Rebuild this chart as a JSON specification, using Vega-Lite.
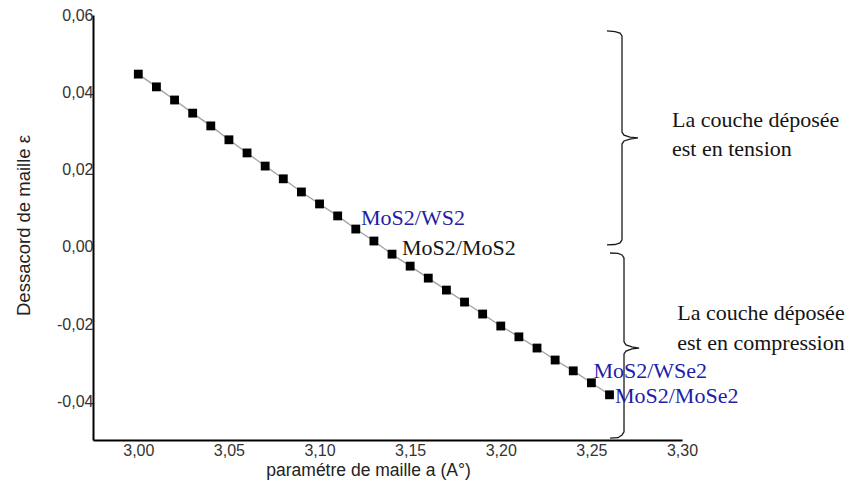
{
  "$schema": "https://vega.github.io/schema/vega-lite/v6.json",
  "autosize": {"type": "none"},
  "padding": {"left": 93, "top": 15, "right": 169, "bottom": 49},
  "width": 589,
  "height": 425,
  "background": "white",
  "config": {
    "view": {"stroke": null},
    "font": "Liberation Sans",
    "locale": {"number": {"decimal": ",", "thousands": " ", "grouping": [3], "currency": ["", " €"], "minus": "-"}}
  },
  "datasets": {
    "points": [
      {"a": 3.00, "eps": 0.0447}, {"a": 3.01, "eps": 0.0414}, {"a": 3.02, "eps": 0.0380},
      {"a": 3.03, "eps": 0.0346}, {"a": 3.04, "eps": 0.0313}, {"a": 3.05, "eps": 0.0277},
      {"a": 3.06, "eps": 0.0243}, {"a": 3.07, "eps": 0.0209}, {"a": 3.08, "eps": 0.0176},
      {"a": 3.09, "eps": 0.0142}, {"a": 3.10, "eps": 0.0111}, {"a": 3.11, "eps": 0.0080},
      {"a": 3.12, "eps": 0.0046}, {"a": 3.13, "eps": 0.0015}, {"a": 3.14, "eps": -0.0019},
      {"a": 3.15, "eps": -0.0050}, {"a": 3.16, "eps": -0.0081}, {"a": 3.17, "eps": -0.0112},
      {"a": 3.18, "eps": -0.0143}, {"a": 3.19, "eps": -0.0174}, {"a": 3.20, "eps": -0.0205},
      {"a": 3.21, "eps": -0.0233}, {"a": 3.22, "eps": -0.0262}, {"a": 3.23, "eps": -0.0293},
      {"a": 3.24, "eps": -0.0321}, {"a": 3.25, "eps": -0.0352}, {"a": 3.26, "eps": -0.0383}
    ],
    "braces": [
      {"brace": "tension", "i": 0, "a": 3.2586, "eps": 0.0559},
      {"brace": "tension", "i": 1, "a": 3.2630, "eps": 0.0557},
      {"brace": "tension", "i": 2, "a": 3.2658, "eps": 0.0553},
      {"brace": "tension", "i": 3, "a": 3.2669, "eps": 0.0546},
      {"brace": "tension", "i": 4, "a": 3.2669, "eps": 0.0297},
      {"brace": "tension", "i": 5, "a": 3.2680, "eps": 0.0289},
      {"brace": "tension", "i": 6, "a": 3.2713, "eps": 0.0284},
      {"brace": "tension", "i": 7, "a": 3.2757, "eps": 0.0282},
      {"brace": "tension", "i": 8, "a": 3.2713, "eps": 0.0279},
      {"brace": "tension", "i": 9, "a": 3.2680, "eps": 0.0274},
      {"brace": "tension", "i": 10, "a": 3.2669, "eps": 0.0266},
      {"brace": "tension", "i": 11, "a": 3.2669, "eps": 0.0018},
      {"brace": "tension", "i": 12, "a": 3.2658, "eps": 0.0010},
      {"brace": "tension", "i": 13, "a": 3.2630, "eps": 0.0006},
      {"brace": "tension", "i": 14, "a": 3.2586, "eps": 0.0005},
      {"brace": "compression", "i": 0, "a": 3.2603, "eps": -0.0016},
      {"brace": "compression", "i": 1, "a": 3.2647, "eps": -0.0017},
      {"brace": "compression", "i": 2, "a": 3.2669, "eps": -0.0021},
      {"brace": "compression", "i": 3, "a": 3.2680, "eps": -0.0029},
      {"brace": "compression", "i": 4, "a": 3.2680, "eps": -0.0246},
      {"brace": "compression", "i": 5, "a": 3.2691, "eps": -0.0254},
      {"brace": "compression", "i": 6, "a": 3.2724, "eps": -0.0259},
      {"brace": "compression", "i": 7, "a": 3.2763, "eps": -0.0262},
      {"brace": "compression", "i": 8, "a": 3.2724, "eps": -0.0264},
      {"brace": "compression", "i": 9, "a": 3.2691, "eps": -0.0270},
      {"brace": "compression", "i": 10, "a": 3.2680, "eps": -0.0277},
      {"brace": "compression", "i": 11, "a": 3.2680, "eps": -0.0479},
      {"brace": "compression", "i": 12, "a": 3.2669, "eps": -0.0487},
      {"brace": "compression", "i": 13, "a": 3.2647, "eps": -0.0494},
      {"brace": "compression", "i": 14, "a": 3.2603, "eps": -0.0495}
    ],
    "labels": [
      {"label": "MoS2/WS2", "type": "hetero", "a": 3.1229, "eps": 0.0056},
      {"label": "MoS2/MoS2", "type": "homo", "a": 3.1455, "eps": -0.0021},
      {"label": "MoS2/WSe2", "type": "hetero", "a": 3.2511, "eps": -0.0340},
      {"label": "MoS2/MoSe2", "type": "hetero", "a": 3.2630, "eps": -0.0405}
    ],
    "notes": [
      {"text": "La couche déposée", "a": 3.2945, "eps": 0.0310},
      {"text": "est en tension", "a": 3.2945, "eps": 0.0235},
      {"text": "La couche déposée", "a": 3.2974, "eps": -0.0189},
      {"text": "est en compression", "a": 3.2974, "eps": -0.0267}
    ]
  },
  "layer": [
    {
      "data": {"name": "points"},
      "mark": {"type": "line", "color": "#a0a0a0", "strokeWidth": 1.3},
      "encoding": {
        "x": {
          "field": "a", "type": "quantitative",
          "scale": {"domain": [2.975, 3.30], "nice": false, "zero": false},
          "axis": {
            "title": "paramétre de maille a (A°)",
            "values": [3.00, 3.05, 3.10, 3.15, 3.20, 3.25, 3.30],
            "format": ".2f",
            "grid": false, "ticks": false,
            "domainColor": "#000000", "domainWidth": 2,
            "labelFont": "Liberation Sans", "labelFontSize": 16, "labelColor": "#333333",
            "labelPadding": 2, "labelFlush": false, "labelOverlap": false,
            "titleFont": "Liberation Sans", "titleFontSize": 17.5, "titleFontWeight": "normal", "titleColor": "#222222",
            "titleX": 275, "titleY": 21, "titleAlign": "center", "titleBaseline": "top"
          }
        },
        "y": {
          "field": "eps", "type": "quantitative",
          "scale": {"domain": [-0.05, 0.06], "nice": false, "zero": false},
          "axis": {
            "title": "Dessacord de maille   ε",
            "values": [-0.04, -0.02, 0, 0.02, 0.04, 0.06],
            "format": ".2f",
            "grid": false, "ticks": false,
            "domainColor": "#000000", "domainWidth": 2,
            "labelFont": "Liberation Sans", "labelFontSize": 16, "labelColor": "#333333",
            "labelPadding": 0, "labelFlush": false, "labelOverlap": false,
            "titleFont": "Liberation Sans", "titleFontSize": 18.5, "titleFontWeight": "normal", "titleColor": "#222222",
            "titleX": -70, "titleY": 210, "titleAlign": "center", "titleBaseline": "middle", "titleAngle": -90
          }
        }
      }
    },
    {
      "data": {"name": "points"},
      "mark": {"type": "point", "shape": "square", "filled": true, "size": 78, "color": "#000000", "opacity": 1},
      "encoding": {
        "x": {"field": "a", "type": "quantitative"},
        "y": {"field": "eps", "type": "quantitative"}
      }
    },
    {
      "data": {"name": "braces"},
      "mark": {"type": "line", "color": "#1a1a1a", "strokeWidth": 1.3},
      "encoding": {
        "x": {"field": "a", "type": "quantitative"},
        "y": {"field": "eps", "type": "quantitative"},
        "detail": {"field": "brace"},
        "order": {"field": "i", "type": "quantitative"}
      }
    },
    {
      "data": {"name": "labels"},
      "mark": {"type": "text", "font": "Liberation Serif", "fontSize": 22, "align": "left", "baseline": "alphabetic"},
      "encoding": {
        "x": {"field": "a", "type": "quantitative"},
        "y": {"field": "eps", "type": "quantitative"},
        "text": {"field": "label"},
        "color": {"field": "type", "type": "nominal", "scale": {"domain": ["hetero", "homo"], "range": ["#1e1ea6", "#161616"]}, "legend": null}
      }
    },
    {
      "data": {"name": "notes"},
      "mark": {"type": "text", "font": "Liberation Serif", "fontSize": 22, "align": "left", "baseline": "alphabetic", "color": "#141414"},
      "encoding": {
        "x": {"field": "a", "type": "quantitative"},
        "y": {"field": "eps", "type": "quantitative"},
        "text": {"field": "text"}
      }
    }
  ]
}
